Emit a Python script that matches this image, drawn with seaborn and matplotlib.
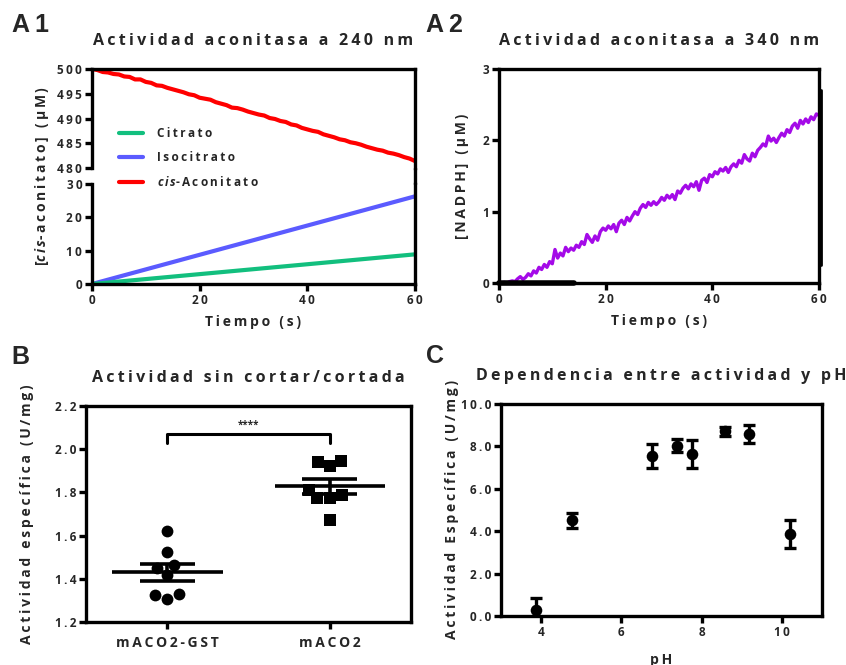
import matplotlib
matplotlib.use('Agg')
import matplotlib.pyplot as plt
import seaborn as sns
import pandas as pd
import numpy as np
from matplotlib.lines import Line2D
from matplotlib.ticker import FuncFormatter, MultipleLocator

# ---- datos ----
tiempo = list(range(61))
cis_aconitato = [500.0, 499.8, 499.4, 499.3, 499.0, 498.9, 498.5, 498.4, 497.9, 497.9,
                 497.4, 497.2, 496.7, 496.6, 496.2, 495.9, 495.6, 495.3, 494.9, 494.7,
                 494.2, 494.0, 493.8, 493.3, 493.0, 492.7, 492.2, 492.1, 491.8, 491.4,
                 491.1, 490.8, 490.6, 490.1, 489.9, 489.5, 489.3, 488.8, 488.6, 488.1,
                 487.8, 487.5, 487.3, 486.8, 486.5, 486.2, 485.8, 485.6, 485.2, 485.0,
                 484.7, 484.3, 484.0, 483.7, 483.5, 483.1, 482.9, 482.6, 482.2, 481.9,
                 481.4]
tiempo_rect = [0, 60]
isocitrato = [0.0, 26.3]
citrato = [0.0, 8.9]

tiempo_nadph = [i / 2 for i in range(121)]
nadph = [0.00, 0.00, 0.01, 0.00, 0.02, 0.03, 0.02, 0.06, 0.09, 0.05,
         0.08, 0.13, 0.10, 0.17, 0.14, 0.22, 0.19, 0.26, 0.22, 0.30,
         0.27, 0.47, 0.35, 0.42, 0.38, 0.50, 0.44, 0.49, 0.46, 0.53,
         0.50, 0.58, 0.54, 0.68, 0.62, 0.57, 0.66, 0.60, 0.72, 0.77,
         0.74, 0.80, 0.76, 0.82, 0.72, 0.84, 0.88, 0.82, 0.92, 0.87,
         0.94, 1.00, 0.96, 1.05, 1.10, 1.06, 1.13, 1.09, 1.14, 1.10,
         1.14, 1.20, 1.16, 1.23, 1.19, 1.24, 1.17, 1.29, 1.26, 1.33,
         1.37, 1.32, 1.39, 1.35, 1.42, 1.30, 1.44, 1.47, 1.41, 1.52,
         1.49, 1.56, 1.53, 1.60, 1.57, 1.62, 1.55, 1.63, 1.67, 1.63,
         1.72, 1.68, 1.80, 1.74, 1.71, 1.82, 1.77, 1.86, 1.90, 1.95,
         1.92, 2.06, 1.99, 2.03, 1.97, 2.04, 2.10, 2.06, 2.15, 2.11,
         2.20, 2.24, 2.17, 2.28, 2.23, 2.30, 2.25, 2.33, 2.29, 2.37,
         2.35]

muestras = ['mACO2-GST', 'mACO2']
act_gst = [1.619, 1.525, 1.465, 1.450, 1.419, 1.329, 1.306, 1.323]
act_maco2 = [1.946, 1.923, 1.940, 1.812, 1.773, 1.773, 1.789, 1.673]

ph = [3.86, 4.78, 6.76, 7.39, 7.76, 8.58, 9.17, 10.21]
act_ph = [0.30, 4.52, 7.56, 8.03, 7.62, 8.71, 8.57, 3.87]
err_ph = [0.55, 0.36, 0.57, 0.31, 0.66, 0.20, 0.43, 0.67]

# ---- estilo ----
sns.set_theme(style='ticks')
plt.rcParams['font.family'] = ['Open Sans', 'DejaVu Sans']
plt.rcParams['font.weight'] = 'bold'
plt.rcParams['mathtext.fontset'] = 'custom'
plt.rcParams['mathtext.it'] = 'Open Sans:italic:bold'
plt.rcParams['mathtext.rm'] = 'Open Sans:bold'

TS = '\u2009'


def sp(s):
    return TS.join(s)


def fmt(f):
    return FuncFormatter(lambda v, p: sp(f.format(v)))


LW = 2.4
TICK_FS = 8.5
LAB_FS = 10
TIT_FS = 11.5


def estilo(ax, spines=('left', 'right', 'top', 'bottom')):
    for s in ['left', 'right', 'top', 'bottom']:
        ax.spines[s].set_visible(s in spines)
        ax.spines[s].set_linewidth(LW)
        ax.spines[s].set_color('black')
    ax.tick_params(width=LW, length=5, labelsize=TICK_FS, color='black', pad=2)
    for lbl in ax.get_xticklabels() + ax.get_yticklabels():
        lbl.set_fontweight('bold')


fig = plt.figure(figsize=(8.46, 6.65), dpi=100)

# ---- A1 ----
verde = '#12BF7E'
azul = '#5B5BFF'
rojo = '#FF0000'
ax_up = fig.add_axes([0.1087, 0.7474, 0.3818, 0.1488])
ax_lo = fig.add_axes([0.1087, 0.5729, 0.3818, 0.1504])
sns.lineplot(x=tiempo, y=cis_aconitato, ax=ax_up, color=rojo, lw=3, estimator=None)
sns.lineplot(x=tiempo_rect, y=isocitrato, ax=ax_lo, color=azul, lw=3, estimator=None)
sns.lineplot(x=tiempo_rect, y=citrato, ax=ax_lo, color=verde, lw=3, estimator=None)
for ax in (ax_up, ax_lo):
    ax.set_xlim(0, 60)
    ax.set_xlabel('')
    ax.set_ylabel('')
ax_up.set_ylim(480, 500)
ax_up.yaxis.set_major_locator(MultipleLocator(5))
ax_up.set_xticks([])
ax_lo.set_ylim(0, 30)
ax_lo.yaxis.set_major_locator(MultipleLocator(10))
ax_lo.set_xticks([0, 20, 40, 60])
for ax in (ax_up, ax_lo):
    ax.yaxis.set_major_formatter(fmt('{:g}'))
    ax.xaxis.set_major_formatter(fmt('{:g}'))
estilo(ax_up, ('left', 'right', 'top'))
estilo(ax_lo, ('left', 'right', 'bottom'))
fig.add_artist(Line2D([0.4905, 0.4905], [0.7233, 0.7474], color='black', lw=LW,
                      transform=fig.transFigure))
ax_up.set_title(sp('Actividad aconitasa a 240 nm'), fontsize=TIT_FS, fontweight='bold', pad=17)
ax_lo.set_xlabel(sp('Tiempo (s)'), fontsize=LAB_FS, fontweight='bold', labelpad=6)
fig.text(0.050, 0.735, '[$\\mathit{c\\,i\\,s}$' + sp('-aconitato] (µM)'), rotation=90,
         ha='center', va='center', fontsize=LAB_FS, fontweight='bold')
handles = [Line2D([], [], color=verde, lw=3), Line2D([], [], color=azul, lw=3),
           Line2D([], [], color=rojo, lw=3)]
labels = [sp('Citrato'), sp('Isocitrato'), '$\\mathit{c\\,i\\,s}$' + sp('-Aconitato')]
fig.legend(handles, labels, loc='center left', bbox_to_anchor=(0.128, 0.762),
           frameon=False, fontsize=8.5, handlelength=2.0, handletextpad=1.2,
           labelspacing=0.95)

# ---- A2 ----
ax2 = fig.add_axes([0.5898, 0.5744, 0.3783, 0.3218])
sns.lineplot(x=tiempo_nadph, y=nadph, ax=ax2, color='#A40AE8', lw=2.4, estimator=None)
ax2.set_xlim(0, 60)
ax2.set_ylim(0, 3)
ax2.set_xticks([0, 20, 40, 60])
ax2.set_yticks([0, 1, 2, 3])
ax2.xaxis.set_major_formatter(fmt('{:g}'))
ax2.yaxis.set_major_formatter(fmt('{:g}'))
estilo(ax2)
# trazos sueltos que tiene la figura original
ax2.plot([0, 14], [0, 0], color='black', lw=4, clip_on=False, zorder=6)
ax2.plot([60.3, 60.3], [0.25, 2.7], color='black', lw=2, clip_on=False, zorder=6)
ax2.set_title(sp('Actividad aconitasa a 340 nm'), fontsize=TIT_FS, fontweight='bold', pad=17)
ax2.set_xlabel(sp('Tiempo (s)'), fontsize=LAB_FS, fontweight='bold', labelpad=6)
ax2.set_ylabel(sp('[NADPH] (µM)'), fontsize=LAB_FS, fontweight='bold')
ax2.yaxis.set_label_coords(-0.095, 0.5)

# ---- B ----
axb = fig.add_axes([0.1017, 0.0647, 0.3841, 0.3248])
df_b = pd.DataFrame({'muestra': ['mACO2-GST'] * len(act_gst) + ['mACO2'] * len(act_maco2),
                     'act': act_gst + act_maco2})
sns.swarmplot(data=df_b[df_b.muestra == 'mACO2-GST'], x='muestra', y='act', order=muestras,
              ax=axb, color='black', marker='o', size=8.5, linewidth=0)
sns.swarmplot(data=df_b[df_b.muestra == 'mACO2'], x='muestra', y='act', order=muestras,
              ax=axb, color='black', marker='s', size=8.5, linewidth=0)
for i, vals in enumerate([act_gst, act_maco2]):
    m = np.mean(vals)
    se = np.std(vals, ddof=1) / np.sqrt(len(vals))
    axb.hlines(m, i - 0.34, i + 0.34, color='black', lw=2.6, zorder=5)
    axb.hlines([m - se, m + se], i - 0.17, i + 0.17, color='black', lw=2.6, zorder=5)
    axb.vlines(i, m - se, m + se, color='black', lw=2.6, zorder=5)
axb.plot([0, 0, 1, 1], [2.027, 2.07, 2.07, 2.027], color='black', lw=2.2)
axb.text(0.5, 2.085, '****', ha='center', va='bottom', fontsize=7)
axb.set_xlim(-0.5, 1.5)
axb.set_ylim(1.2, 2.2)
axb.yaxis.set_major_locator(MultipleLocator(0.2))
axb.yaxis.set_major_formatter(fmt('{:.1f}'))
axb.set_xticks([0, 1])
axb.set_xticklabels([sp(s) for s in muestras], fontsize=LAB_FS)
axb.set_xlabel('')
estilo(axb)
axb.tick_params(axis='x', labelsize=LAB_FS, pad=5)
axb.set_ylabel(sp('Actividad específica (U/mg)'), fontsize=LAB_FS, fontweight='bold')
axb.yaxis.set_label_coords(-0.16, 0.5)
axb.set_title(sp('Actividad sin cortar/cortada'), fontsize=TIT_FS, fontweight='bold', pad=17)

# ---- C ----
axc = fig.add_axes([0.5922, 0.0737, 0.3794, 0.3188])
axc.errorbar(ph, act_ph, yerr=err_ph, fmt='none', ecolor='black', elinewidth=2.4,
             capsize=4, capthick=2.4, zorder=3)
sns.scatterplot(x=ph, y=act_ph, ax=axc, color='black', s=70, linewidth=0, zorder=4)
axc.set_xlim(3, 11)
axc.set_ylim(0, 10)
axc.set_xticks([4, 6, 8, 10])
axc.yaxis.set_major_locator(MultipleLocator(2))
axc.yaxis.set_major_formatter(fmt('{:.1f}'))
axc.xaxis.set_major_formatter(fmt('{:g}'))
estilo(axc)
axc.set_xlabel(sp('pH'), fontsize=LAB_FS, fontweight='bold', labelpad=10)
axc.set_ylabel(sp('Actividad Específica (U/mg)'), fontsize=LAB_FS, fontweight='bold')
axc.yaxis.set_label_coords(-0.13, 0.5)
axc.set_title(sp('Dependencia entre actividad y pH'), fontsize=TIT_FS, fontweight='bold',
              pad=17)

# ---- letras de panel ----
for x, y, t in [(0.014, 0.963, 'A1'), (0.503, 0.963, 'A2'),
                (0.014, 0.463, 'B'), (0.503, 0.465, 'C')]:
    fig.text(x, y, TS.join(t), fontsize=18, fontweight='bold', family='Liberation Sans',
             va='center')

fig.savefig('out.png', dpi=100)
